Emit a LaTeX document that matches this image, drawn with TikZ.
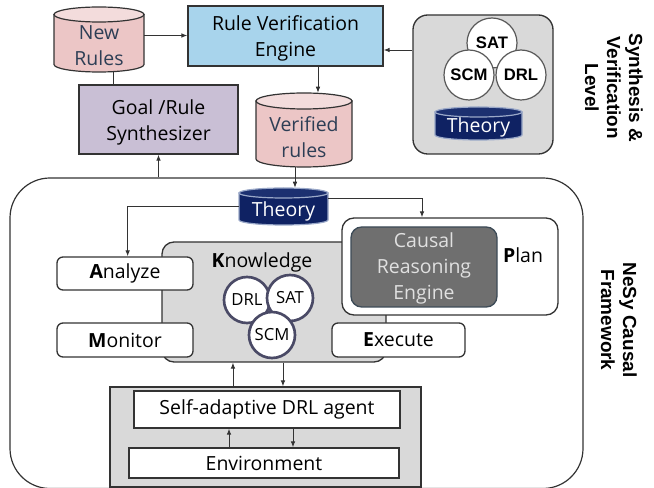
\documentclass[tikz,border=0pt]{standalone}
\usepackage{fontspec}
\setmainfont{Open Sans}
\newfontfamily\arialb{Liberation Sans}
\usetikzlibrary{fit,arrows.meta,calc}
\definecolor{pinkbody}{HTML}{ECC6C6}
\definecolor{pinktop}{HTML}{F3DCDC}
\definecolor{rveblue}{HTML}{A8D4EC}
\definecolor{lav}{HTML}{C9BFD5}
\definecolor{lgray}{HTML}{D9D9D9}
\definecolor{navy}{HTML}{0F2263}
\definecolor{navytop}{HTML}{1C3070}
\definecolor{navyedge}{HTML}{9AA8C8}
\definecolor{cregray}{HTML}{6F6F6F}
\definecolor{creedge}{HTML}{3D4B57}
\definecolor{kcirc}{HTML}{4A4A66}
\definecolor{cyltxt}{HTML}{2D3E55}
\definecolor{linec}{HTML}{333333}
\newcommand\msz{\fontsize{14.6}{19.5}\selectfont}
\newcommand\mycyl[8]{%
  \pgfmathsetmacro\cxx{(#1+#3)/2}%
  \pgfmathsetmacro\rxx{(#3-#1)/2}%
  \filldraw[draw=#8, line width=0.9pt, fill=#6] (#1,#2+#5) -- (#1,#4-#5)
    arc[start angle=180,end angle=0,x radius=\rxx,y radius=#5] -- (#3,#2+#5) -- cycle;
  \filldraw[draw=#8, line width=0.9pt, fill=#7] (\cxx,#2+#5) ellipse[x radius=\rxx, y radius=#5];
}
\tikzset{
  arr/.style={draw=linec, line width=0.7pt, -{Latex[length=4.5pt,width=3.5pt]}},
  ln/.style={draw=linec, line width=0.7pt},
  bx/.style={draw=linec, line width=1pt, inner sep=0pt},
  rbx/.style={bx, rounded corners=4.5pt, fill=white},
  txt/.style={align=center, inner sep=0pt, font=\msz},
  anchorbox/.style={inner sep=0pt, draw=none},
  framebox/.style={draw=linec, line width=0.9pt, rounded corners=30pt, inner sep=0pt},
  kc/.style={circle, draw=kcirc, line width=2pt, fill=white, minimum size=34.5pt, inner sep=0pt, font=\fontsize{12.5}{14}\selectfont},
  sc/.style={circle, draw=black!65, line width=0.9pt, fill=white, minimum size=37.5pt, inner sep=0pt, font=\arialb\bfseries\fontsize{12.5}{14}\selectfont},
  sidelab/.style={rotate=-90, align=center, inner sep=0pt, font=\arialb\bfseries\fontsize{14.2}{16.5}\selectfont},
}
\begin{document}
\begin{tikzpicture}[x=0.75pt,y=-0.75pt]
\useasboundingbox (0,0) rectangle (654,488);

% outer framework
\node[framebox, fit={(10,178)(583,488.5)}] (frame) {};

% side labels
\node[sidelab] (svl) at (614,88) {Synthesis \&\\Verification\\Level};
\node[sidelab] (nsl) at (619,320) {NeSy Causal\\Framework};

% ---------- synthesis level ----------
\mycyl{54}{7}{144}{72}{7.5}{pinkbody}{pinktop}{linec}
\node[anchorbox, fit={(54,7)(144,72)}] (newr) {};
\node[txt, text=cyltxt] (newrt) at (99,46) {New\\Rules};

\node[bx, fill=rveblue, fit={(188,6)(383,66)}] (rve) {};
\node[txt] (rvet) at (285.5,38) {Rule Verification\\Engine};

\node[bx, fill=lav, fit={(79,85)(238,154)}] (goal) {};
\node[txt] (goalt) at (158.5,122) {Goal /Rule\\Synthesizer};

\mycyl{256}{93}{352}{167}{8}{pinkbody}{pinktop}{linec}
\node[anchorbox, fit={(256,93)(352,167)}] (vr) {};
\node[txt, text=cyltxt] (vrt) at (304,137) {Verified\\rules};

\node[bx, fill=lgray, rounded corners=11pt, fit={(413,15)(553,154)}] (rbox) {};
\node[sc] (rsat) at (492,43) {SAT};
\node[sc] (rscm) at (469,75) {SCM};
\node[sc] (rdrl) at (521,75) {DRL};
\mycyl{435}{107}{522}{140}{5}{navy}{navytop}{navyedge}
\node[anchorbox, fit={(435,107)(522,140)}] (rth) {};
\node[txt, text=white] (rtht) at (478.5,127) {Theory};

% connectors (synthesis level)
\coordinate (nrR) at ([yshift=3pt]newr.east);
\draw[arr] (nrR) -- (nrR -| rve.west);
\coordinate (rveR) at ([yshift=-10.5pt]rve.east);
\draw[arr] (rveR -| rbox.west) -- (rveR);
\coordinate (nrB) at (113,72);
\draw[ln] (nrB) -- (nrB |- goal.north);
\coordinate (rveB) at (318,66);
\draw[arr] (rveB) -- (rveB |- vr.north);
\draw[arr] (goal.south |- frame.north) -- (goal.south);

% ---------- framework ----------
\mycyl{239}{188}{328}{225}{5}{navy}{navytop}{navyedge}
\node[anchorbox, fit={(239,188)(328,225)}] (thc) {};
\node[txt, text=white] (thct) at (283.5,211) {Theory};
\coordinate (vrB) at (295,167);
\draw[arr] (vrB) -- (vrB |- thc.north);

\node[bx, fill=lgray, rounded corners=9pt, fit={(162,242)(386,362)}] (know) {};
\node[txt] (knowt) at (262,262) {\textbf{K}nowledge};
\node[kc] (kdrl) at (247,300) {DRL};
\node[kc] (ksat) at (290,298) {SAT};
\node[kc] (kscm) at (272,335) {SCM};

\node[rbx, fit={(57,257)(193,290)}] (ana) {};
\node[txt] (anat) at (ana) {\textbf{A}nalyze};
\node[rbx, fit={(57,323)(193,357)}] (mon) {};
\node[txt] (mont) at (mon) {\textbf{M}onitor};
\node[rbx, fit={(332,323)(465,357)}] (exe) {};
\node[txt] (exet) at (exe) {\textbf{E}xecute};

\node[bx, fill=white, rounded corners=9pt, fit={(342,218)(558,315)}] (plan) {};
\node[draw=creedge, line width=1pt, fill=cregray, rounded corners=8pt, inner sep=0pt, fit={(351,227)(497,307)}] (cre) {};
\node[txt, text=black!12] (cret) at (424,268.5) {Causal\\Reasoning\\Engine};
\node[txt] (plant) at (523,255) {\textbf{P}lan};

% theory connectors
\draw[arr] (thc.west) -| ([xshift=2pt]ana.north);
\coordinate (thR) at ([yshift=6pt]thc.east);
\coordinate (plT) at ([xshift=-21pt]plan.north);
\draw[arr] (thR) -| (plT);

% agent
\node[bx, fill=lgray, fit={(110,387)(421,487)}] (agbox) {};
\node[bx, fill=white, fit={(134,391)(400,428)}] (agent) {};
\node[txt] (agentt) at (agent) {Self-adaptive DRL agent};
\node[bx, fill=white, fit={(129,448)(399,478)}] (env) {};
\node[txt] (envt) at (env) {Environment};

\coordinate (kUp) at ([xshift=-24.4pt]agbox.north);
\draw[arr] (kUp) -- (kUp |- know.south);
\coordinate (kDn) at ([xshift=13.1pt]agbox.north);
\draw[arr] (kDn |- know.south) -- (kDn);
\coordinate (eUp) at ([xshift=-26.25pt]env.north);
\draw[arr] (eUp) -- (eUp |- agent.south);
\coordinate (eDn) at ([xshift=21.75pt]env.north);
\draw[arr] (eDn |- agent.south) -- (eDn);
\end{tikzpicture}
\end{document}
